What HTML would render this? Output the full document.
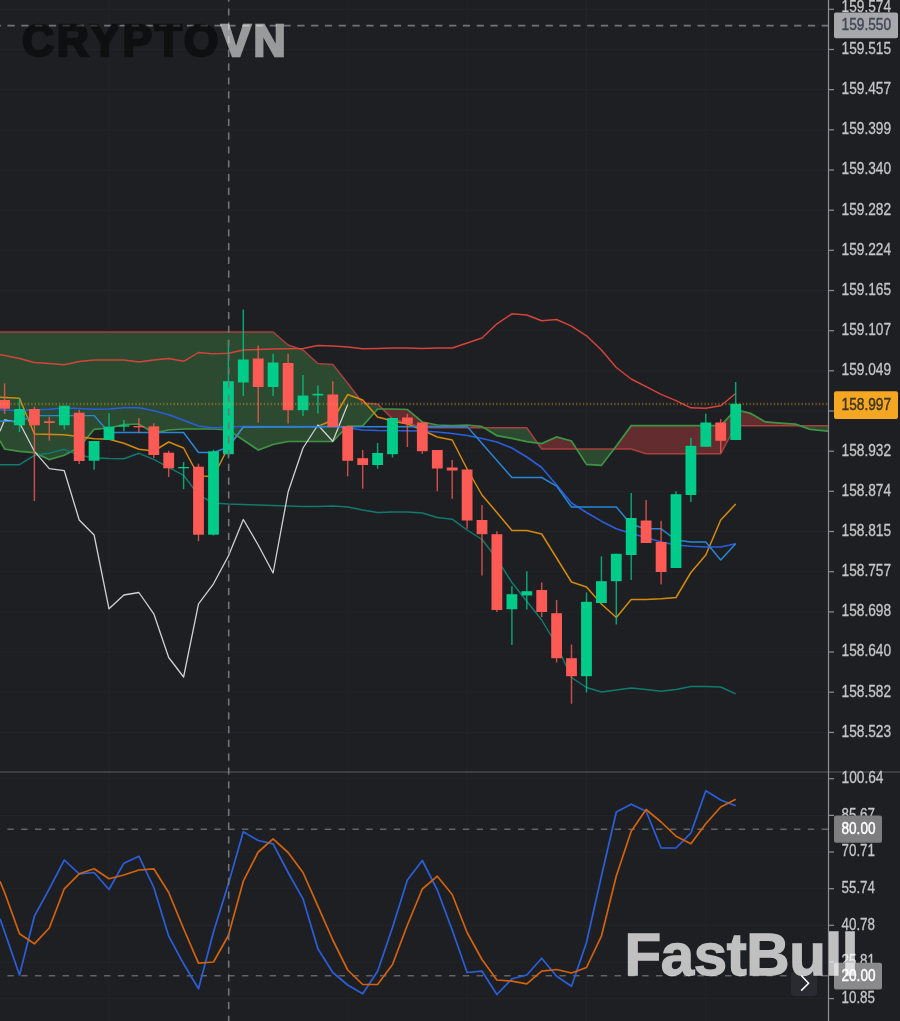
<!DOCTYPE html>
<html><head><meta charset="utf-8"><title>Chart</title>
<style>
html,body{margin:0;padding:0;background:#1e1f23;}
body{width:900px;height:1021px;overflow:hidden;position:relative;}
svg{position:absolute;left:0;top:0;}
body>svg{filter:blur(0.45px);}
.wm1{position:absolute;left:22px;top:19px;font-family:"Liberation Sans",sans-serif;font-weight:bold;font-size:44.5px;letter-spacing:2.7px;-webkit-text-stroke:2.4px currentColor;line-height:1;white-space:nowrap;}
.wm1 .c{color:#000000;opacity:.5}
.wm1 .v{color:#ffffff;opacity:.55}
.wm2{position:absolute;left:624.5px;top:925px;font-family:"Liberation Sans",sans-serif;font-weight:bold;font-size:60px;letter-spacing:-0.4px;-webkit-text-stroke:1.3px currentColor;line-height:1;color:#ffffff;opacity:.72;white-space:nowrap;}
.btn{position:absolute;left:791px;top:971px;width:26px;height:25px;border-radius:4px;background:#2a2b30;}
</style></head><body>
<svg width="900" height="1021" viewBox="0 0 900 1021"><rect width="900" height="1021" fill="#1e1f23"/>
<g stroke="#232428" stroke-width="1"><line x1="109.0" y1="0" x2="109.0" y2="1021"/><line x1="228.4" y1="0" x2="228.4" y2="1021"/><line x1="347.7" y1="0" x2="347.7" y2="1021"/><line x1="467.1" y1="0" x2="467.1" y2="1021"/><line x1="586.5" y1="0" x2="586.5" y2="1021"/><line x1="705.8" y1="0" x2="705.8" y2="1021"/><line x1="0" y1="9.3" x2="828" y2="9.3"/><line x1="0" y1="49.5" x2="828" y2="49.5"/><line x1="0" y1="89.6" x2="828" y2="89.6"/><line x1="0" y1="129.8" x2="828" y2="129.8"/><line x1="0" y1="170.0" x2="828" y2="170.0"/><line x1="0" y1="210.2" x2="828" y2="210.2"/><line x1="0" y1="250.3" x2="828" y2="250.3"/><line x1="0" y1="290.5" x2="828" y2="290.5"/><line x1="0" y1="330.7" x2="828" y2="330.7"/><line x1="0" y1="370.8" x2="828" y2="370.8"/><line x1="0" y1="411.0" x2="828" y2="411.0"/><line x1="0" y1="451.2" x2="828" y2="451.2"/><line x1="0" y1="491.3" x2="828" y2="491.3"/><line x1="0" y1="531.5" x2="828" y2="531.5"/><line x1="0" y1="571.7" x2="828" y2="571.7"/><line x1="0" y1="611.9" x2="828" y2="611.9"/><line x1="0" y1="652.0" x2="828" y2="652.0"/><line x1="0" y1="692.2" x2="828" y2="692.2"/><line x1="0" y1="732.4" x2="828" y2="732.4"/><line x1="0" y1="778.7" x2="828" y2="778.7"/><line x1="0" y1="815.4" x2="828" y2="815.4"/><line x1="0" y1="852.0" x2="828" y2="852.0"/><line x1="0" y1="888.7" x2="828" y2="888.7"/><line x1="0" y1="925.3" x2="828" y2="925.3"/><line x1="0" y1="962.0" x2="828" y2="962.0"/><line x1="0" y1="998.6" x2="828" y2="998.6"/></g>
<defs><clipPath id="cm"><rect x="0" y="0" width="828" height="771.5"/></clipPath></defs><g clip-path="url(#cm)">
<path d="M0.0,440.7 L4.6,449.0 L19.5,451.3 L34.4,452.7 L49.3,459.6 L64.3,455.3 L79.2,447.3 L94.1,429.3 L109.0,428.0 L123.9,424.7 L138.9,424.0 L153.8,433.0 L168.7,430.0 L183.6,429.0 L198.5,429.0 L213.5,429.0 L228.4,430.0 L243.3,440.0 L258.2,450.0 L273.1,444.5 L288.1,441.5 L303.0,441.5 L317.9,441.5 L332.8,441.5 L347.7,426.0 L362.7,426.0 L377.6,409.0 L382.6,409.0 L382.6,409.0 L377.6,404.0 L362.7,403.0 L347.7,383.3 L332.8,364.4 L317.9,363.6 L303.0,350.0 L288.1,345.0 L273.1,332.0 L258.2,332.0 L243.3,332.0 L228.4,332.0 L213.5,332.0 L198.5,332.0 L183.6,332.0 L168.7,332.0 L153.8,332.0 L138.9,332.0 L123.9,332.0 L109.0,332.0 L94.1,332.0 L79.2,332.0 L64.3,332.0 L49.3,332.0 L34.4,332.0 L19.5,332.0 L4.6,332.0 L0.0,332.0Z" fill="#2b4a2f"/>
<path d="M382.6,409.0 L392.5,409.0 L407.4,409.5 L422.3,422.0 L437.3,425.0 L452.2,425.5 L467.1,425.0 L482.0,426.6 L484.0,427.8 L484.0,427.8 L482.0,427.8 L467.1,427.8 L452.2,427.8 L437.3,427.8 L422.3,427.5 L407.4,423.0 L392.5,418.9 L382.6,409.0Z" fill="#632c2f"/>
<path d="M484.0,427.8 L496.9,435.6 L511.9,438.4 L526.8,441.6 L537.5,443.0 L537.5,443.0 L526.8,427.8 L511.9,427.8 L496.9,427.8 L484.0,427.8Z" fill="#2b4a2f"/>
<path d="M537.5,443.0 L541.7,443.6 L556.6,437.0 L571.5,441.0 L576.6,449.0 L576.6,449.0 L571.5,449.0 L556.6,449.0 L541.7,449.0 L537.5,443.0Z" fill="#632c2f"/>
<path d="M576.6,449.0 L586.5,464.4 L601.4,465.4 L614.0,449.0 L614.0,449.0 L601.4,449.0 L586.5,449.0 L576.6,449.0Z" fill="#2b4a2f"/>
<path d="M614.0,449.0 L616.3,446.0 L631.2,425.7 L646.1,425.7 L661.1,425.7 L676.0,425.7 L690.9,425.7 L705.8,425.7 L720.7,425.7 L735.7,409.6 L750.6,413.4 L765.5,421.9 L780.4,423.2 L795.3,424.2 L799.7,425.7 L799.7,425.7 L795.3,425.7 L780.4,425.7 L765.5,425.7 L750.6,425.7 L735.7,425.7 L720.7,453.8 L705.8,453.8 L690.9,453.8 L676.0,453.8 L661.1,453.8 L646.1,453.8 L631.2,449.0 L616.3,449.0 L614.0,449.0Z" fill="#632c2f"/>
<path d="M799.7,425.7 L810.3,429.3 L825.2,430.8 L830.0,431.3 L830.0,425.7 L825.2,425.7 L810.3,425.7 L799.7,425.7Z" fill="#2b4a2f"/>
<path d="M0.0,332.0 L273.1,332.0 L288.1,345.0 L303.0,350.0 L317.9,363.6 L332.8,364.4 L347.7,383.3 L362.7,403.0 L377.6,404.0 L392.5,418.9 L407.4,423.0 L422.3,427.5 L437.3,427.8 L526.8,427.8 L541.7,449.0 L631.2,449.0 L646.1,453.8 L720.7,453.8 L735.7,425.7 L830.0,425.7" fill="none" stroke="#a8403d" stroke-width="1.5"/>
<path d="M0.0,440.7 L4.6,449.0 L19.5,451.3 L34.4,452.7 L49.3,459.6 L64.3,455.3 L79.2,447.3 L94.1,429.3 L109.0,428.0 L123.9,424.7 L138.9,424.0 L153.8,433.0 L168.7,430.0 L183.6,429.0 L198.5,429.0 L213.5,429.0 L228.4,430.0 L243.3,440.0 L258.2,450.0 L273.1,444.5 L288.1,441.5 L303.0,441.5 L317.9,441.5 L332.8,441.5 L347.7,426.0 L362.7,426.0 L377.6,409.0 L392.5,409.0 L407.4,409.5 L422.3,422.0 L437.3,425.0 L452.2,425.5 L467.1,425.0 L482.0,426.6 L496.9,435.6 L511.9,438.4 L526.8,441.6 L541.7,443.6 L556.6,437.0 L571.5,441.0 L586.5,464.4 L601.4,465.4 L616.3,446.0 L631.2,425.7 L646.1,425.7 L661.1,425.7 L676.0,425.7 L690.9,425.7 L705.8,425.7 L720.7,425.7 L735.7,409.6 L750.6,413.4 L765.5,421.9 L780.4,423.2 L795.3,424.2 L810.3,429.3 L825.2,430.8 L830.0,431.3" fill="none" stroke="#3f9443" stroke-width="1.7"/>
<path d="M0.0,397.3 L19.5,398.3 L34.4,434.0 L64.3,434.7 L79.2,436.7 L94.1,438.7 L109.0,439.3 L123.9,443.3 L138.9,449.3 L153.8,451.0 L168.7,442.0 L183.6,448.0 L198.5,476.0 L213.5,476.5 L228.4,447.0 L243.3,427.0 L317.9,426.5 L332.8,420.0 L347.7,394.5 L362.7,400.0 L377.6,417.0 L392.5,421.0 L407.4,424.0 L422.3,430.0 L437.3,437.0 L452.2,440.0 L467.1,469.0 L482.0,495.0 L496.9,512.5 L511.9,530.5 L526.8,530.5 L541.7,534.0 L556.6,558.0 L571.5,582.0 L586.5,587.0 L601.4,604.0 L616.3,617.5 L631.2,599.5 L646.1,599.5 L661.1,598.8 L676.0,597.5 L690.9,572.5 L705.8,555.0 L720.7,520.0 L735.7,504.0" fill="none" stroke="#d38a0e" stroke-width="1.5" stroke-linejoin="round"/>
<path d="M0.0,354.7 L4.6,355.5 L19.5,358.5 L34.4,362.5 L49.3,363.5 L64.3,364.8 L79.2,361.5 L94.1,360.0 L109.0,360.0 L123.9,360.0 L138.9,362.0 L153.8,360.0 L168.7,358.5 L183.6,361.3 L198.5,352.5 L213.5,353.9 L228.4,353.3 L243.3,350.0 L258.2,349.5 L273.1,349.0 L288.1,348.8 L303.0,348.5 L317.9,345.5 L332.8,346.0 L347.7,347.0 L362.7,348.8 L377.6,348.5 L392.5,348.0 L407.4,348.0 L422.3,348.5 L437.3,348.0 L452.2,348.0 L467.1,343.0 L482.0,338.0 L496.9,323.8 L511.9,313.8 L526.8,315.0 L541.7,320.8 L556.6,319.5 L571.5,326.2 L586.5,335.8 L601.4,350.0 L616.3,367.5 L631.2,379.0 L646.1,386.6 L661.1,394.3 L676.0,400.7 L690.9,407.8 L705.8,408.3 L720.7,405.8 L735.7,393.5" fill="none" stroke="#d6433a" stroke-width="1.45" stroke-linejoin="round"/>
<path d="M0.0,464.7 L19.5,464.7 L34.4,455.3 L49.3,453.3 L64.3,449.3 L79.2,455.3 L94.1,457.7 L109.0,458.5 L123.9,458.7 L138.9,453.3 L153.8,459.3 L168.7,467.3 L183.6,475.3 L198.5,495.0 L213.5,503.0 L228.4,504.0 L243.3,504.5 L258.2,505.0 L273.1,505.5 L288.1,506.0 L303.0,506.5 L317.9,506.5 L332.8,506.0 L347.7,507.0 L362.7,510.0 L377.6,512.5 L392.5,512.0 L407.4,512.0 L422.3,513.0 L437.3,517.5 L452.2,519.2 L467.1,530.0 L482.0,539.5 L496.9,558.8 L511.9,582.5 L526.8,601.2 L541.7,620.0 L556.6,645.0 L571.5,677.5 L586.5,687.5 L601.4,692.0 L616.3,690.0 L631.2,688.0 L646.1,689.5 L661.1,691.2 L676.0,689.5 L690.9,686.5 L705.8,686.5 L720.7,687.0 L735.7,693.8" fill="none" stroke="#107a6e" stroke-width="1.45" stroke-linejoin="round"/>
<path d="M0.0,409.7 L19.5,410.7 L34.4,409.7 L49.3,409.3 L64.3,408.0 L79.2,408.4 L94.1,409.3 L109.0,409.0 L123.9,407.7 L138.9,407.7 L153.8,410.7 L168.7,414.7 L183.6,420.3 L198.5,426.0 L213.5,428.0 L228.4,426.8 L243.3,426.5 L332.8,426.5 L347.7,428.0 L362.7,430.0 L377.6,430.5 L422.3,431.0 L437.3,432.0 L452.2,433.5 L467.1,435.5 L482.0,438.5 L496.9,442.0 L511.9,448.0 L526.8,457.0 L541.7,467.5 L556.6,485.0 L571.5,503.0 L586.5,512.5 L601.4,521.2 L616.3,528.8 L631.2,533.5 L646.1,537.5 L661.1,542.0 L676.0,545.0 L690.9,546.2 L705.8,547.0 L720.7,547.0 L735.7,543.8" fill="none" stroke="#2a5fdc" stroke-width="1.55" stroke-linejoin="round"/>
<path d="M0.0,431.3 L4.6,420.0 L19.5,422.7 L34.4,451.3 L49.3,468.7 L64.3,470.7 L79.2,520.0 L94.1,535.0 L109.0,608.8 L123.9,595.0 L138.9,592.5 L153.8,613.8 L168.7,657.5 L183.6,677.0 L198.5,603.8 L213.5,583.8 L228.4,556.0 L243.3,519.5 L258.2,545.0 L273.1,573.0 L288.1,492.0 L303.0,448.0 L317.9,425.0 L332.8,441.2 L347.7,404.5" fill="none" stroke="#d0d0d0" stroke-width="1.3" stroke-linejoin="round"/>
<path d="M0.0,421.3 L19.5,421.3 L34.4,415.6 L94.1,415.6 L109.0,432.5 L183.6,432.5 L198.5,452.5 L213.5,452.5 L228.4,447.0 L243.3,427.0 L467.1,426.5 L511.9,477.5 L541.7,477.5 L556.6,486.2 L571.5,507.0 L616.3,507.0 L631.2,524.5 L646.1,528.8 L661.1,528.8 L676.0,540.0 L690.9,542.0 L705.8,542.0 L720.7,560.0 L735.7,543.8" fill="none" stroke="#2786d8" stroke-width="1.45" stroke-linejoin="round"/>
<g><line x1="4.6" y1="383.3" x2="4.6" y2="414" stroke="#fc5a54" stroke-width="1.45" stroke-opacity="0.78"/><rect x="-0.8" y="400" width="10.8" height="8.7" fill="#fc5a54"/><line x1="19.5" y1="398" x2="19.5" y2="432" stroke="#00cc8a" stroke-width="1.45" stroke-opacity="0.78"/><rect x="14.1" y="409" width="10.8" height="16.3" fill="#00cc8a"/><line x1="34.4" y1="406.7" x2="34.4" y2="501" stroke="#fc5a54" stroke-width="1.45" stroke-opacity="0.78"/><rect x="29.0" y="409" width="10.8" height="16.3" fill="#fc5a54"/><line x1="49.3" y1="416.7" x2="49.3" y2="440.7" stroke="#fc5a54" stroke-width="1.45" stroke-opacity="0.78"/><rect x="43.9" y="421.3" width="10.8" height="1.7" fill="#fc5a54"/><line x1="64.3" y1="405.7" x2="64.3" y2="429.7" stroke="#00cc8a" stroke-width="1.45" stroke-opacity="0.78"/><rect x="58.9" y="405.7" width="10.8" height="19.6" fill="#00cc8a"/><line x1="79.2" y1="409.7" x2="79.2" y2="464" stroke="#fc5a54" stroke-width="1.45" stroke-opacity="0.78"/><rect x="73.8" y="412.7" width="10.8" height="48.3" fill="#fc5a54"/><line x1="94.1" y1="441" x2="94.1" y2="469.7" stroke="#00cc8a" stroke-width="1.45" stroke-opacity="0.78"/><rect x="88.7" y="441" width="10.8" height="19.7" fill="#00cc8a"/><line x1="109.0" y1="413.3" x2="109.0" y2="440" stroke="#00cc8a" stroke-width="1.45" stroke-opacity="0.78"/><rect x="103.6" y="426.7" width="10.8" height="13.3" fill="#00cc8a"/><line x1="123.9" y1="420" x2="123.9" y2="431.3" stroke="#00cc8a" stroke-width="1.45" stroke-opacity="0.78"/><rect x="118.5" y="425.3" width="10.8" height="1.4" fill="#00cc8a"/><line x1="138.9" y1="418" x2="138.9" y2="432.7" stroke="#fc5a54" stroke-width="1.45" stroke-opacity="0.78"/><rect x="133.5" y="426" width="10.8" height="1.3" fill="#fc5a54"/><line x1="153.8" y1="423.3" x2="153.8" y2="458" stroke="#fc5a54" stroke-width="1.45" stroke-opacity="0.78"/><rect x="148.4" y="426.4" width="10.8" height="28.6" fill="#fc5a54"/><line x1="168.7" y1="450.7" x2="168.7" y2="477" stroke="#fc5a54" stroke-width="1.45" stroke-opacity="0.78"/><rect x="163.3" y="452.7" width="10.8" height="15.6" fill="#fc5a54"/><line x1="183.6" y1="462" x2="183.6" y2="489.2" stroke="#00cc8a" stroke-width="1.45" stroke-opacity="0.78"/><rect x="178.2" y="467" width="10.8" height="1.3" fill="#00cc8a"/><line x1="198.5" y1="463.7" x2="198.5" y2="541.3" stroke="#fc5a54" stroke-width="1.45" stroke-opacity="0.78"/><rect x="193.1" y="466.7" width="10.8" height="68.0" fill="#fc5a54"/><line x1="213.5" y1="449.7" x2="213.5" y2="535.5" stroke="#00cc8a" stroke-width="1.45" stroke-opacity="0.78"/><rect x="208.1" y="451.3" width="10.8" height="83.4" fill="#00cc8a"/><line x1="228.4" y1="340" x2="228.4" y2="458.6" stroke="#00cc8a" stroke-width="1.45" stroke-opacity="0.78"/><rect x="223.0" y="381.2" width="10.8" height="73.0" fill="#00cc8a"/><line x1="243.3" y1="309.5" x2="243.3" y2="396" stroke="#00cc8a" stroke-width="1.45" stroke-opacity="0.78"/><rect x="237.9" y="359.5" width="10.8" height="23.0" fill="#00cc8a"/><line x1="258.2" y1="345.5" x2="258.2" y2="422.5" stroke="#fc5a54" stroke-width="1.45" stroke-opacity="0.78"/><rect x="252.8" y="358.5" width="10.8" height="28.5" fill="#fc5a54"/><line x1="273.1" y1="353.8" x2="273.1" y2="396" stroke="#00cc8a" stroke-width="1.45" stroke-opacity="0.78"/><rect x="267.7" y="362.5" width="10.8" height="24.5" fill="#00cc8a"/><line x1="288.1" y1="353.8" x2="288.1" y2="423.6" stroke="#fc5a54" stroke-width="1.45" stroke-opacity="0.78"/><rect x="282.7" y="363" width="10.8" height="47.2" fill="#fc5a54"/><line x1="303.0" y1="375" x2="303.0" y2="416" stroke="#00cc8a" stroke-width="1.45" stroke-opacity="0.78"/><rect x="297.6" y="395.5" width="10.8" height="14.7" fill="#00cc8a"/><line x1="317.9" y1="385.5" x2="317.9" y2="413.6" stroke="#00cc8a" stroke-width="1.45" stroke-opacity="0.78"/><rect x="312.5" y="393.8" width="10.8" height="1.7" fill="#00cc8a"/><line x1="332.8" y1="381.2" x2="332.8" y2="427" stroke="#fc5a54" stroke-width="1.45" stroke-opacity="0.78"/><rect x="327.4" y="394.5" width="10.8" height="32.5" fill="#fc5a54"/><line x1="347.7" y1="426" x2="347.7" y2="476.2" stroke="#fc5a54" stroke-width="1.45" stroke-opacity="0.78"/><rect x="342.3" y="426.2" width="10.8" height="34.6" fill="#fc5a54"/><line x1="362.7" y1="450" x2="362.7" y2="488.8" stroke="#fc5a54" stroke-width="1.45" stroke-opacity="0.78"/><rect x="357.3" y="458.2" width="10.8" height="6.8" fill="#fc5a54"/><line x1="377.6" y1="443" x2="377.6" y2="468.8" stroke="#00cc8a" stroke-width="1.45" stroke-opacity="0.78"/><rect x="372.2" y="453" width="10.8" height="12.0" fill="#00cc8a"/><line x1="392.5" y1="418" x2="392.5" y2="457.5" stroke="#00cc8a" stroke-width="1.45" stroke-opacity="0.78"/><rect x="387.1" y="418" width="10.8" height="36.2" fill="#00cc8a"/><line x1="407.4" y1="413.8" x2="407.4" y2="447" stroke="#fc5a54" stroke-width="1.45" stroke-opacity="0.78"/><rect x="402.0" y="417.5" width="10.8" height="6.3" fill="#fc5a54"/><line x1="422.3" y1="422.5" x2="422.3" y2="453.8" stroke="#fc5a54" stroke-width="1.45" stroke-opacity="0.78"/><rect x="416.9" y="422.5" width="10.8" height="28.7" fill="#fc5a54"/><line x1="437.3" y1="450" x2="437.3" y2="491.2" stroke="#fc5a54" stroke-width="1.45" stroke-opacity="0.78"/><rect x="431.9" y="450" width="10.8" height="18.5" fill="#fc5a54"/><line x1="452.2" y1="460" x2="452.2" y2="498.8" stroke="#fc5a54" stroke-width="1.45" stroke-opacity="0.78"/><rect x="446.8" y="467.5" width="10.8" height="3.0" fill="#fc5a54"/><line x1="467.1" y1="469.5" x2="467.1" y2="528.8" stroke="#fc5a54" stroke-width="1.45" stroke-opacity="0.78"/><rect x="461.7" y="469.5" width="10.8" height="51.0" fill="#fc5a54"/><line x1="482.0" y1="505" x2="482.0" y2="575.5" stroke="#fc5a54" stroke-width="1.45" stroke-opacity="0.78"/><rect x="476.6" y="520" width="10.8" height="14.2" fill="#fc5a54"/><line x1="496.9" y1="531.2" x2="496.9" y2="612" stroke="#fc5a54" stroke-width="1.45" stroke-opacity="0.78"/><rect x="491.5" y="534.2" width="10.8" height="75.8" fill="#fc5a54"/><line x1="511.9" y1="586.2" x2="511.9" y2="645" stroke="#00cc8a" stroke-width="1.45" stroke-opacity="0.78"/><rect x="506.5" y="594.2" width="10.8" height="15.0" fill="#00cc8a"/><line x1="526.8" y1="571.2" x2="526.8" y2="609.5" stroke="#00cc8a" stroke-width="1.45" stroke-opacity="0.78"/><rect x="521.4" y="591.2" width="10.8" height="4.3" fill="#00cc8a"/><line x1="541.7" y1="582.5" x2="541.7" y2="617" stroke="#fc5a54" stroke-width="1.45" stroke-opacity="0.78"/><rect x="536.3" y="590" width="10.8" height="22.0" fill="#fc5a54"/><line x1="556.6" y1="600" x2="556.6" y2="662.5" stroke="#fc5a54" stroke-width="1.45" stroke-opacity="0.78"/><rect x="551.2" y="613.2" width="10.8" height="45.0" fill="#fc5a54"/><line x1="571.5" y1="644.5" x2="571.5" y2="703.8" stroke="#fc5a54" stroke-width="1.45" stroke-opacity="0.78"/><rect x="566.1" y="658.2" width="10.8" height="18.0" fill="#fc5a54"/><line x1="586.5" y1="592.5" x2="586.5" y2="692.5" stroke="#00cc8a" stroke-width="1.45" stroke-opacity="0.78"/><rect x="581.1" y="601.8" width="10.8" height="74.4" fill="#00cc8a"/><line x1="601.4" y1="556.2" x2="601.4" y2="603" stroke="#00cc8a" stroke-width="1.45" stroke-opacity="0.78"/><rect x="596.0" y="581.2" width="10.8" height="21.8" fill="#00cc8a"/><line x1="616.3" y1="553.8" x2="616.3" y2="624.5" stroke="#00cc8a" stroke-width="1.45" stroke-opacity="0.78"/><rect x="610.9" y="553.8" width="10.8" height="27.4" fill="#00cc8a"/><line x1="631.2" y1="493" x2="631.2" y2="580" stroke="#00cc8a" stroke-width="1.45" stroke-opacity="0.78"/><rect x="625.8" y="518" width="10.8" height="37.0" fill="#00cc8a"/><line x1="646.1" y1="500" x2="646.1" y2="543" stroke="#fc5a54" stroke-width="1.45" stroke-opacity="0.78"/><rect x="640.7" y="520.5" width="10.8" height="22.5" fill="#fc5a54"/><line x1="661.1" y1="520.8" x2="661.1" y2="584.5" stroke="#fc5a54" stroke-width="1.45" stroke-opacity="0.78"/><rect x="655.7" y="542" width="10.8" height="30.0" fill="#fc5a54"/><line x1="676.0" y1="491.2" x2="676.0" y2="568" stroke="#00cc8a" stroke-width="1.45" stroke-opacity="0.78"/><rect x="670.6" y="494.2" width="10.8" height="73.8" fill="#00cc8a"/><line x1="690.9" y1="438" x2="690.9" y2="502" stroke="#00cc8a" stroke-width="1.45" stroke-opacity="0.78"/><rect x="685.5" y="445.8" width="10.8" height="49.2" fill="#00cc8a"/><line x1="705.8" y1="413.8" x2="705.8" y2="446.8" stroke="#00cc8a" stroke-width="1.45" stroke-opacity="0.78"/><rect x="700.4" y="422.5" width="10.8" height="24.3" fill="#00cc8a"/><line x1="720.7" y1="419" x2="720.7" y2="453" stroke="#fc5a54" stroke-width="1.45" stroke-opacity="0.78"/><rect x="715.3" y="422.5" width="10.8" height="18.3" fill="#fc5a54"/><line x1="735.7" y1="382" x2="735.7" y2="440" stroke="#00cc8a" stroke-width="1.45" stroke-opacity="0.78"/><rect x="730.3" y="403.8" width="10.8" height="36.2" fill="#00cc8a"/></g>
<line x1="0" y1="404" x2="828" y2="404" stroke="#e8a530" stroke-width="2.6" stroke-dasharray="1.3 2.17" opacity="0.4"/>
</g>
<line x1="0" y1="772" x2="900" y2="772" stroke="#5d5e63" stroke-width="1"/>
<line x1="0" y1="829.2" x2="828" y2="829.2" stroke="#626367" stroke-width="1.6" stroke-dasharray="6.4 7.4" stroke-dashoffset="6.4"/>
<line x1="0" y1="975.8" x2="828" y2="975.8" stroke="#626367" stroke-width="1.6" stroke-dasharray="6.4 7.4" stroke-dashoffset="6.4"/>
<path d="M0.0,918.8 L4.6,931.8 L19.5,975.0 L34.4,916.2 L49.3,888.8 L64.3,860.0 L79.2,873.8 L94.1,872.5 L109.0,889.5 L123.9,863.2 L138.9,856.2 L153.8,887.5 L168.7,936.2 L183.6,963.8 L198.5,988.8 L213.5,932.0 L228.4,883.8 L243.3,831.8 L258.2,840.5 L273.1,843.8 L288.1,872.5 L303.0,898.8 L317.9,948.8 L332.8,972.5 L347.7,985.0 L362.7,993.8 L377.6,971.2 L392.5,927.5 L407.4,880.0 L422.3,860.5 L437.3,890.0 L452.2,930.0 L467.1,972.5 L482.0,971.2 L496.9,994.5 L511.9,978.8 L526.8,975.0 L541.7,958.2 L556.6,976.2 L571.5,986.2 L586.5,942.5 L601.4,876.2 L616.3,812.0 L631.2,804.2 L646.1,811.2 L661.1,848.0 L676.0,848.0 L690.9,833.0 L705.8,790.8 L720.7,800.0 L735.7,805.8" fill="none" stroke="#2b5fd9" stroke-width="1.7" stroke-linejoin="round"/>
<path d="M0.0,881.2 L4.6,892.5 L19.5,933.8 L34.4,943.8 L49.3,928.0 L64.3,888.8 L79.2,873.8 L94.1,868.8 L109.0,878.8 L123.9,875.0 L138.9,870.0 L153.8,868.8 L168.7,892.5 L183.6,928.8 L198.5,963.2 L213.5,962.0 L228.4,935.5 L243.3,881.2 L258.2,852.0 L273.1,838.8 L288.1,852.5 L303.0,872.5 L317.9,906.2 L332.8,940.0 L347.7,970.0 L362.7,984.5 L377.6,984.5 L392.5,964.5 L407.4,925.0 L422.3,889.0 L437.3,876.2 L452.2,894.5 L467.1,932.5 L482.0,959.5 L496.9,980.0 L511.9,981.2 L526.8,983.8 L541.7,971.2 L556.6,969.5 L571.5,973.0 L586.5,967.5 L601.4,936.2 L616.3,876.0 L631.2,831.2 L646.1,809.5 L661.1,822.0 L676.0,836.2 L690.9,843.8 L705.8,823.8 L720.7,807.0 L735.7,799.2" fill="none" stroke="#d2620f" stroke-width="1.7" stroke-linejoin="round"/>
<line x1="228.7" y1="0" x2="228.7" y2="1021" stroke="#727378" stroke-width="1.6" stroke-dasharray="7.2 6.6" stroke-dashoffset="5.4"/>
<line x1="0" y1="25.6" x2="828" y2="25.6" stroke="#727378" stroke-width="1.6" stroke-dasharray="7.2 6.6" stroke-dashoffset="6.3"/>
<line x1="828.5" y1="0" x2="828.5" y2="1021" stroke="#8e8f94" stroke-width="1.2"/>
<g font-family="Liberation Sans, sans-serif" font-size="17" fill="#c6c6c8" stroke="#c6c6c8" stroke-width="0.3"><line x1="829" y1="9.3" x2="834" y2="9.3" stroke="#8e8f94" stroke-width="1.2"/><text x="841.5" y="12.3" textLength="49.6" lengthAdjust="spacingAndGlyphs">159.574</text><line x1="829" y1="49.5" x2="834" y2="49.5" stroke="#8e8f94" stroke-width="1.2"/><text x="841.5" y="53.9" textLength="49.6" lengthAdjust="spacingAndGlyphs">159.515</text><line x1="829" y1="89.6" x2="834" y2="89.6" stroke="#8e8f94" stroke-width="1.2"/><text x="841.5" y="94.0" textLength="49.6" lengthAdjust="spacingAndGlyphs">159.457</text><line x1="829" y1="129.8" x2="834" y2="129.8" stroke="#8e8f94" stroke-width="1.2"/><text x="841.5" y="134.2" textLength="49.6" lengthAdjust="spacingAndGlyphs">159.399</text><line x1="829" y1="170.0" x2="834" y2="170.0" stroke="#8e8f94" stroke-width="1.2"/><text x="841.5" y="174.4" textLength="49.6" lengthAdjust="spacingAndGlyphs">159.340</text><line x1="829" y1="210.2" x2="834" y2="210.2" stroke="#8e8f94" stroke-width="1.2"/><text x="841.5" y="214.6" textLength="49.6" lengthAdjust="spacingAndGlyphs">159.282</text><line x1="829" y1="250.3" x2="834" y2="250.3" stroke="#8e8f94" stroke-width="1.2"/><text x="841.5" y="254.7" textLength="49.6" lengthAdjust="spacingAndGlyphs">159.224</text><line x1="829" y1="290.5" x2="834" y2="290.5" stroke="#8e8f94" stroke-width="1.2"/><text x="841.5" y="294.9" textLength="49.6" lengthAdjust="spacingAndGlyphs">159.165</text><line x1="829" y1="330.7" x2="834" y2="330.7" stroke="#8e8f94" stroke-width="1.2"/><text x="841.5" y="335.1" textLength="49.6" lengthAdjust="spacingAndGlyphs">159.107</text><line x1="829" y1="370.8" x2="834" y2="370.8" stroke="#8e8f94" stroke-width="1.2"/><text x="841.5" y="375.2" textLength="49.6" lengthAdjust="spacingAndGlyphs">159.049</text><line x1="829" y1="411.0" x2="834" y2="411.0" stroke="#8e8f94" stroke-width="1.2"/><line x1="829" y1="451.2" x2="834" y2="451.2" stroke="#8e8f94" stroke-width="1.2"/><text x="841.5" y="455.6" textLength="49.6" lengthAdjust="spacingAndGlyphs">158.932</text><line x1="829" y1="491.3" x2="834" y2="491.3" stroke="#8e8f94" stroke-width="1.2"/><text x="841.5" y="495.7" textLength="49.6" lengthAdjust="spacingAndGlyphs">158.874</text><line x1="829" y1="531.5" x2="834" y2="531.5" stroke="#8e8f94" stroke-width="1.2"/><text x="841.5" y="535.9" textLength="49.6" lengthAdjust="spacingAndGlyphs">158.815</text><line x1="829" y1="571.7" x2="834" y2="571.7" stroke="#8e8f94" stroke-width="1.2"/><text x="841.5" y="576.1" textLength="49.6" lengthAdjust="spacingAndGlyphs">158.757</text><line x1="829" y1="611.9" x2="834" y2="611.9" stroke="#8e8f94" stroke-width="1.2"/><text x="841.5" y="616.2" textLength="49.6" lengthAdjust="spacingAndGlyphs">158.698</text><line x1="829" y1="652.0" x2="834" y2="652.0" stroke="#8e8f94" stroke-width="1.2"/><text x="841.5" y="656.4" textLength="49.6" lengthAdjust="spacingAndGlyphs">158.640</text><line x1="829" y1="692.2" x2="834" y2="692.2" stroke="#8e8f94" stroke-width="1.2"/><text x="841.5" y="696.6" textLength="49.6" lengthAdjust="spacingAndGlyphs">158.582</text><line x1="829" y1="732.4" x2="834" y2="732.4" stroke="#8e8f94" stroke-width="1.2"/><text x="841.5" y="736.8" textLength="49.6" lengthAdjust="spacingAndGlyphs">158.523</text><line x1="829" y1="778.7" x2="834" y2="778.7" stroke="#8e8f94" stroke-width="1.2"/><text x="841.5" y="783.1" textLength="42" lengthAdjust="spacingAndGlyphs">100.64</text><line x1="829" y1="815.4" x2="834" y2="815.4" stroke="#8e8f94" stroke-width="1.2"/><text x="841.5" y="819.8" textLength="33.5" lengthAdjust="spacingAndGlyphs">85.67</text><line x1="829" y1="852.0" x2="834" y2="852.0" stroke="#8e8f94" stroke-width="1.2"/><text x="841.5" y="856.4" textLength="33.5" lengthAdjust="spacingAndGlyphs">70.71</text><line x1="829" y1="888.7" x2="834" y2="888.7" stroke="#8e8f94" stroke-width="1.2"/><text x="841.5" y="893.1" textLength="33.5" lengthAdjust="spacingAndGlyphs">55.74</text><line x1="829" y1="925.3" x2="834" y2="925.3" stroke="#8e8f94" stroke-width="1.2"/><text x="841.5" y="929.7" textLength="33.5" lengthAdjust="spacingAndGlyphs">40.78</text><line x1="829" y1="962.0" x2="834" y2="962.0" stroke="#8e8f94" stroke-width="1.2"/><text x="841.5" y="966.4" textLength="33.5" lengthAdjust="spacingAndGlyphs">25.81</text><line x1="829" y1="998.6" x2="834" y2="998.6" stroke="#8e8f94" stroke-width="1.2"/><text x="841.5" y="1003.0" textLength="33.5" lengthAdjust="spacingAndGlyphs">10.85</text></g>
<rect x="834" y="12.4" width="64" height="25.800000000000004" rx="2" fill="#a7a8ac"/>
<text x="841.5" y="30.3" font-family="Liberation Sans, sans-serif" font-size="17" fill="#434756" stroke="#434756" stroke-width="0.45" textLength="49.6" lengthAdjust="spacingAndGlyphs">159.550</text>
<rect x="834" y="391.3" width="64" height="27.69999999999999" rx="2" fill="#f5a623"/>
<text x="841.5" y="410.1" font-family="Liberation Sans, sans-serif" font-size="17" fill="#3d3520" stroke="#3d3520" stroke-width="0.45" textLength="49.6" lengthAdjust="spacingAndGlyphs">158.997</text>
<rect x="834" y="815.6" width="48" height="27.100000000000023" rx="2" fill="#7e7e80"/>
<text x="841.5" y="834.2" font-family="Liberation Sans, sans-serif" font-size="17" fill="#ffffff" stroke="#ffffff" stroke-width="0.45" textLength="34" lengthAdjust="spacingAndGlyphs">80.00</text>
<rect x="834" y="962.7" width="48" height="26.799999999999955" rx="2" fill="#8a8a8c"/>
<text x="841.5" y="981.1" font-family="Liberation Sans, sans-serif" font-size="17" fill="#ffffff" stroke="#ffffff" stroke-width="0.45" textLength="34" lengthAdjust="spacingAndGlyphs">20.00</text></svg>
<div class="wm1"><span class="c">CRYPTO</span><span class="v">VN</span></div>
<div class="btn"><svg width="26" height="25" viewBox="0 0 26 25"><path d="M10.2 4.6 L17.6 12.2 L10.2 19.6" fill="none" stroke="#ffffff" stroke-width="1.5"/></svg></div>
<div class="wm2">FastBull</div>

</body></html>
